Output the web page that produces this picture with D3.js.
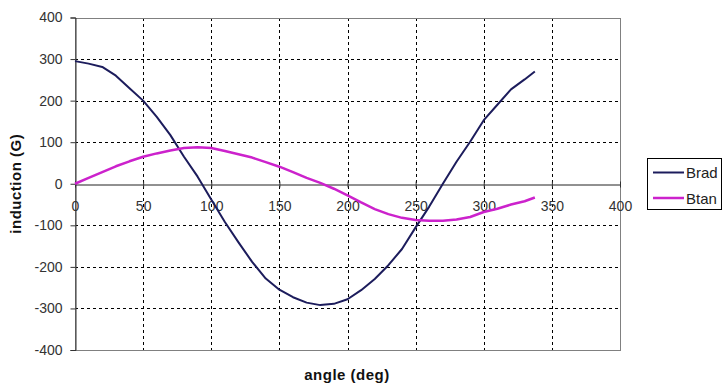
<!DOCTYPE html>
<html>
<head>
<meta charset="utf-8">
<script src="https://cdn.jsdelivr.net/npm/d3@7"></script>
<style>
  body { margin: 0; background: #fff; }
  svg text { font-family: Arial, "Liberation Sans", sans-serif; }
</style>
</head>
<body>
<div id="chart"></div>
<script>
var angles = [0, 10, 20, 30, 40, 50, 60, 70, 80, 90, 100, 110, 120, 130, 140, 150, 160, 170,
              180, 190, 200, 210, 220, 230, 240, 250, 260, 270, 280, 290, 300, 310, 320, 330, 337.5];
var brad = [295, 289, 281, 260, 230, 200, 161, 117, 65, 17, -38, -92, -141, -188, -228, -255, -273, -286,
            -292, -289, -278, -256, -229, -196, -157, -105, -55, 0, 53, 101, 153, 190, 227, 251, 270];
var btan = [0, 14, 28, 42, 54, 65, 73, 80, 86, 88, 86, 79, 71, 63, 52, 41, 28, 14,
            2, -12, -28, -45, -61, -73, -82, -87, -89, -89, -86, -80, -68, -60, -50, -42, -33];
var xTicks = [0, 50, 100, 150, 200, 250, 300, 350, 400];
var yTicks = [-400, -300, -200, -100, 0, 100, 200, 300, 400];
var seriesNames = ['Brad', 'Btan'];
var seriesColors = ['#1c1c5c', '#cc22cc'];

(function () {
    var width = 722, height = 385;
    var plotLeft = 75, plotRight = 620, plotTop = 17.5, plotBottom = 350;

    var svg = d3.select('#chart').append('svg')
        .attr('width', width)
        .attr('height', height);

    var x = d3.scaleLinear().domain([0, 400]).range([plotLeft, plotRight]);
    var y = d3.scaleLinear().domain([-400, 400]).range([plotBottom, plotTop]);
    var plain = function (d) { return String(d); };

    // grid
    var grid = svg.append('g').attr('stroke', '#000').attr('stroke-width', 1)
        .attr('stroke-dasharray', '3,3').attr('shape-rendering', 'crispEdges');
    grid.selectAll('.gx').data(xTicks.slice(1, -1)).enter().append('line')
        .attr('x1', function (d) { return Math.round(x(d)) + 0.5; })
        .attr('x2', function (d) { return Math.round(x(d)) + 0.5; })
        .attr('y1', plotTop).attr('y2', plotBottom);
    grid.selectAll('.gy').data(yTicks.filter(function (d) { return d !== 0 && d !== 400 && d !== -400; }))
        .enter().append('line')
        .attr('y1', function (d) { return Math.round(y(d)) + 0.5; })
        .attr('y2', function (d) { return Math.round(y(d)) + 0.5; })
        .attr('x1', plotLeft).attr('x2', plotRight);

    // plot border
    svg.append('rect')
        .attr('x', plotLeft + 0.5).attr('y', Math.round(plotTop) + 0.5)
        .attr('width', plotRight - plotLeft).attr('height', plotBottom - Math.round(plotTop))
        .attr('fill', 'none').attr('stroke', '#808080').attr('stroke-width', 1);

    // y axis
    var yAxis = d3.axisLeft(y).tickValues(yTicks).tickFormat(plain).tickSize(5).tickPadding(8);
    var gy = svg.append('g').attr('transform', 'translate(' + (plotLeft + 0.5) + ',0)').call(yAxis);
    gy.select('.domain').attr('stroke', '#333');
    gy.selectAll('.tick line').attr('stroke', '#333');
    gy.selectAll('text').attr('font-size', 14).attr('fill', '#333');

    // x axis at zero
    var xAxis = d3.axisBottom(x).tickValues(xTicks).tickFormat(plain).tickSize(0).tickPadding(22);
    var gx = svg.append('g').attr('transform', 'translate(0,' + (Math.round(y(0)) + 0.5) + ')').call(xAxis);
    gx.select('.domain').attr('stroke', '#222');
    gx.selectAll('.tick').append('line').attr('y1', -3).attr('y2', 3).attr('stroke', '#333');
    gx.selectAll('text').attr('font-size', 14).attr('fill', '#333').attr('dy', '0.32em');

    // lines
    var line = d3.line()
        .x(function (d) { return x(d[0]); })
        .y(function (d) { return y(d[1]); });

    [brad, btan].forEach(function (vals, i) {
        svg.append('path')
            .datum(angles.map(function (a, j) { return [a, vals[j]]; }))
            .attr('d', line)
            .attr('fill', 'none')
            .attr('stroke', seriesColors[i])
            .attr('stroke-width', i === 0 ? 2 : 2.5)
            .attr('stroke-linejoin', 'round');
    });

    // axis titles
    svg.append('text')
        .attr('x', 347).attr('y', 380)
        .attr('text-anchor', 'middle').attr('font-size', 15).attr('font-weight', 'bold')
        .attr('letter-spacing', 0.5).attr('fill', '#111')
        .text('angle (deg)');
    svg.append('text')
        .attr('transform', 'translate(21,' + y(0) + ') rotate(-90)')
        .attr('text-anchor', 'middle').attr('font-size', 15).attr('font-weight', 'bold')
        .attr('letter-spacing', 0.5).attr('fill', '#111')
        .text('induction (G)');

    // legend
    var legend = svg.append('g');
    legend.append('rect')
        .attr('x', 647.5).attr('y', 158.5).attr('width', 74).attr('height', 51)
        .attr('fill', '#fff').attr('stroke', '#000');
    seriesNames.forEach(function (name, i) {
        var ly = 172.5 + i * 25.5;
        legend.append('line')
            .attr('x1', 653).attr('x2', 684).attr('y1', ly).attr('y2', ly)
            .attr('stroke', seriesColors[i]).attr('stroke-width', i === 0 ? 2 : 2.5);
        legend.append('text')
            .attr('x', 686).attr('y', ly + 5.5)
            .attr('font-size', 15).attr('fill', '#222')
            .text(name);
    });
})();
</script>
</body>
</html>
